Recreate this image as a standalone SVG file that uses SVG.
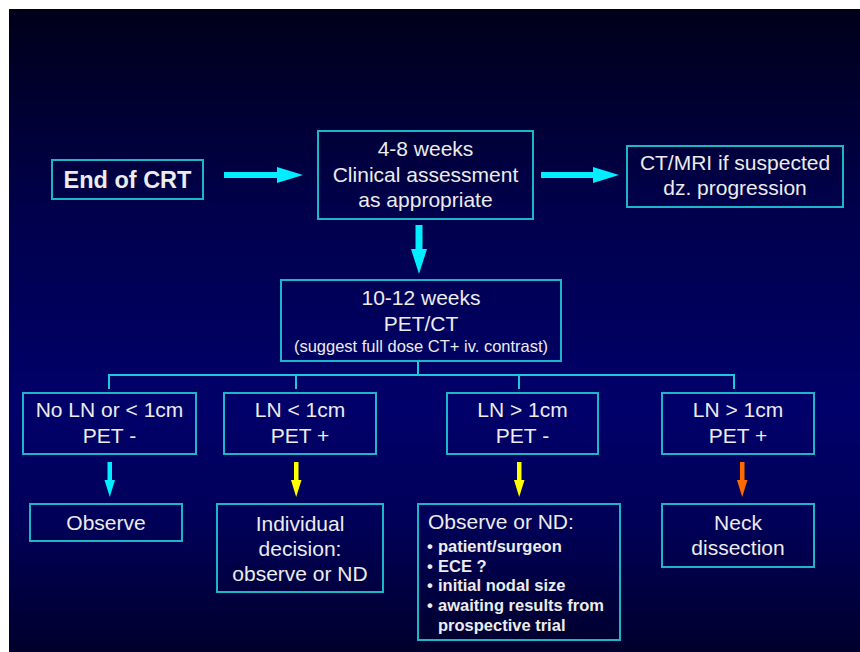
<svg xmlns="http://www.w3.org/2000/svg" width="860" height="652" viewBox="0 0 860 652">
<defs>
<linearGradient id="bg" x1="0" y1="0" x2="0" y2="1">
<stop offset="0" stop-color="#00001a"/>
<stop offset="0.3" stop-color="#00004a"/>
<stop offset="0.62" stop-color="#00006a"/>
<stop offset="0.8" stop-color="#000058"/>
<stop offset="1" stop-color="#00002c"/>
</linearGradient>
<style>
.box{fill:none;stroke:#1cb6c8;stroke-width:2}
.t{font-family:"Liberation Sans",Arial,sans-serif;fill:#ececec;text-anchor:middle}
.m{font-size:21px}
.s{font-size:16.5px}
.b{font-weight:bold;font-size:16.5px}
.l{text-anchor:start}
.line{fill:none;stroke:#1cc8dc;stroke-width:2}
.cy{fill:#00eeff}
.ye{fill:#ffff00}
.or{fill:#ff6a00}
</style>
</defs>
<rect x="0" y="0" width="860" height="652" fill="#ffffff"/>
<rect x="9" y="9" width="851" height="643" fill="url(#bg)"/>

<g id="end-crt">
<rect class="box" x="52" y="160" width="151" height="39"/>
<text class="t" x="127.5" y="188" style="font-size:23.5px;font-weight:bold">End of CRT</text>
</g>
<g id="clinical">
<rect class="box" x="318" y="131" width="215" height="88"/>
<text class="t m" x="425.5" y="156">4-8 weeks</text>
<text class="t m" x="425.5" y="182">Clinical assessment</text>
<text class="t m" x="425.5" y="207">as appropriate</text>
</g>
<g id="ctmri">
<rect class="box" x="627" y="146" width="216" height="61"/>
<text class="t m" x="735" y="170">CT/MRI if suspected</text>
<text class="t m" x="735" y="195">dz. progression</text>
</g>
<g id="petct">
<rect class="box" x="281" y="280" width="280" height="81"/>
<text class="t m" x="421" y="305">10-12 weeks</text>
<text class="t m" x="421" y="331">PET/CT</text>
<text class="t s" x="421" y="352">(suggest full dose CT+ iv. contrast)</text>
</g>
<g id="n1">
<rect class="box" x="23" y="393" width="173" height="61"/>
<text class="t m" x="109.5" y="417">No LN or &lt; 1cm</text>
<text class="t m" x="109.5" y="443">PET -</text>
</g>
<g id="n2">
<rect class="box" x="224" y="393" width="152" height="61"/>
<text class="t m" x="300" y="417">LN &lt; 1cm</text>
<text class="t m" x="300" y="443">PET +</text>
</g>
<g id="n3">
<rect class="box" x="447" y="393" width="151" height="61"/>
<text class="t m" x="522.5" y="417">LN &gt; 1cm</text>
<text class="t m" x="522.5" y="443">PET -</text>
</g>
<g id="n4">
<rect class="box" x="662" y="393" width="152" height="61"/>
<text class="t m" x="738" y="417">LN &gt; 1cm</text>
<text class="t m" x="738" y="443">PET +</text>
</g>
<g id="observe">
<rect class="box" x="30" y="504" width="152" height="37"/>
<text class="t m" x="106" y="530">Observe</text>
</g>
<g id="individual">
<rect class="box" x="217" y="504" width="166" height="88"/>
<text class="t m" x="300" y="531">Individual</text>
<text class="t m" x="300" y="556">decision:</text>
<text class="t m" x="300" y="581">observe or ND</text>
</g>
<g id="observe-nd">
<rect class="box" x="418" y="504" width="202" height="136"/>
<text class="t m l" x="428" y="529">Observe or ND:</text>
<text class="t b l" x="427" y="552">•</text>
<text class="t b l" x="438" y="552">patient/surgeon</text>
<text class="t b l" x="427" y="572">•</text>
<text class="t b l" x="438" y="572">ECE ?</text>
<text class="t b l" x="427" y="591">•</text>
<text class="t b l" x="438" y="591">initial nodal size</text>
<text class="t b l" x="427" y="611">•</text>
<text class="t b l" x="438" y="611">awaiting results from</text>
<text class="t b l" x="438" y="631">prospective trial</text>
</g>
<g id="neck">
<rect class="box" x="662" y="504" width="152" height="63"/>
<text class="t m" x="738" y="530">Neck</text>
<text class="t m" x="738" y="555">dissection</text>
</g>

<g id="connectors">
<polygon class="cy" points="224,172 277,172 277,167 303,175 277,183 277,178 224,178"/>
<polygon class="cy" points="541,172 593,172 593,167 619,175 593,183 593,178 541,178"/>
<polygon class="cy" points="415.5,225 422.5,225 422.5,249 427,249 419,274 411,249 415.5,249"/>
<path class="line" d="M418,361 V375 M109,389 V375 H734 V389 M296,375 V389 M519,375 V389"/>
<polygon class="cy" points="107.5,462 112,462 112,480 115,480 109.8,497 104.5,480 107.5,480"/>
<polygon class="ye" points="294,462 298.5,462 298.5,480 301.5,480 296.2,497 291,480 294,480"/>
<polygon class="ye" points="517,462 521.5,462 521.5,480 524.5,480 519.2,497 514,480 517,480"/>
<polygon class="or" points="740,462 744.5,462 744.5,480 747.5,480 742.2,497 737,480 740,480"/>
</g>
</svg>
